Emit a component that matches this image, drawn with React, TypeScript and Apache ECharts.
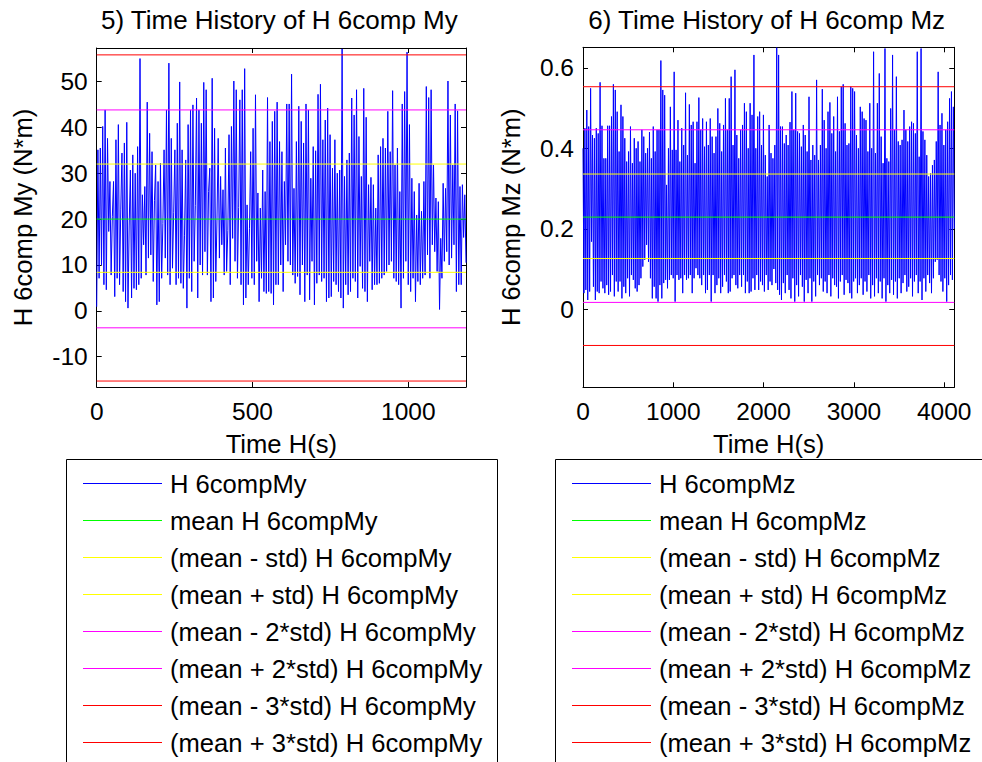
import React, { useEffect, useRef } from "react";
import * as echarts from "echarts";

// ---------- data ----------
const MY_VALUES = [
  0.9, 35.1, 7.1, 35.5, 10.0, 40.2, 5.7, 43.8, 4.6, 37.6, 17.3, 28.2, 7.8, 20.5, 28.2, 3.1, 37.3, 7.1, 40.6, 5.7,
  22.0, 34.4, 4.2, 36.6, 2.0, 41.1, 0.6, 18.5, 30.7, 2.8, 34.0, 4.9, 30.0, 4.6, 35.8, 5.7, 55.0, 7.1, 25.3, 14.4,
  27.1, 7.8, 45.5, 11.5, 38.7, 12.2, 34.7, 6.4, 24.0, 31.8, 1.3, 28.2, 2.0, 32.2, 7.1, 19.0, 35.1, 11.5, 43.8, 7.8,
  54.0, 5.7, 37.6, 9.3, 21.5, 35.1, 5.7, 40.9, 7.1, 49.9, 6.0, 35.1, 4.9, 16.5, 32.9, 0.6, 40.6, 7.1, 43.8, 4.2,
  44.9, 10.8, 23.0, 46.4, 2.8, 43.8, 10.0, 40.9, 7.8, 49.8, 12.9, 48.2, 7.8, 26.0, 31.1, 2.0, 50.7, 2.8, 39.8, 6.4,
  20.0, 37.6, 11.5, 29.3, 14.4, 26.4, 7.8, 35.5, 8.6, 17.5, 38.4, 5.7, 40.2, 15.8, 50.1, 10.8, 48.2, 7.1, 22.5, 46.0,
  5.7, 48.2, 1.3, 52.8, 2.8, 23.1, 5.7, 18.0, 34.7, 7.1, 39.8, 5.7, 47.1, 10.8, 25.7, 2.0, 22.4, 7.1,
  30.7, 4.2, 26.0, 3.8, 46.5, 4.2, 36.9, 3.8, 41.3, 1.3, 43.5, 5.7, 45.5, 5.7, 36.9, 10.0, 34.7, 4.2, 28.2, 14.4,
  45.1, 10.8, 45.1, 10.0, 51.6, 7.8, 26.7, 6.0, 36.9, 7.5, 44.6, 3.5, 41.3, 10.0, 36.6, 2.0, 45.1, 7.8, 43.8, 2.4,
  28.9, 10.8, 35.8, 1.3, 34.9, 6.0, 47.2, 7.8, 49.4, 6.4, 37.3, 7.1, 41.6, 2.0, 44.2, 2.8, 38.4, 3.1, 31.1, 6.4,
  37.3, 5.7, 30.0, 4.2, 30.7, 2.8, 57.1, 0.6, 29.3, 5.7, 32.9, 3.5, 34.4, 4.2, 46.4, 7.1, 42.7, 6.4, 48.2, 2.8,
  38.0, 9.7, 29.3, 4.9, 48.5, 4.2, 42.2, 2.0, 27.5, 10.8, 29.1, 4.6, 27.5, 5.7, 22.4, 5.7, 34.0, 6.0, 35.8, 7.1,
  37.6, 7.8, 35.5, 8.6, 43.5, 10.0, 34.7, 10.8, 48.0, 7.1, 31.8, 6.4, 35.5, 5.7, 26.0, 0.6, 45.1, 7.1, 47.8, 10.8,
  56.4, 5.7, 40.6, 4.2, 28.9, 7.1, 26.0, 2.0, 20.9, 6.4, 27.8, 5.7, 21.7, 7.1, 28.2, 7.8, 48.9, 12.2, 46.5, 7.1,
  48.2, 14.4, 31.8, 12.9, 24.6, 8.6, 23.8, 0.3, 15.8, 7.1, 27.8, 10.8, 26.7, 12.9, 50.1, 10.0, 42.7, 11.5, 31.8, 14.4,
  45.1, 4.2, 43.6, 5.7, 27.1, 5.7, 27.5, 16.0, 25.3, 10.5,
];

const MZ_VALUES = [
  0.400, 0.040, 0.450, 0.048, 0.495, 0.023, 0.454, 0.044, 0.549, 0.168, 0.433, 0.056, 0.425, 0.023, 0.450, 0.044,
  0.437, 0.040, 0.564, 0.069, 0.456, 0.052, 0.375, 0.040, 0.375, 0.060, 0.456, 0.036, 0.456, 0.044, 0.479, 0.085,
  0.559, 0.032, 0.545, 0.069, 0.491, 0.044, 0.392, 0.069, 0.508, 0.027, 0.479, 0.056, 0.425, 0.040, 0.367, 0.077,
  0.392, 0.032, 0.454, 0.085, 0.363, 0.073, 0.425, 0.052, 0.400, 0.044, 0.417, 0.060, 0.367, 0.077, 0.446, 0.106,
  0.429, 0.123, 0.388, 0.160, 0.400, 0.118, 0.440, 0.077, 0.375, 0.027, 0.454, 0.056, 0.392, 0.027, 0.446, 0.019,
  0.446, 0.060, 0.618, 0.027, 0.545, 0.065, 0.532, 0.073, 0.309, 0.052, 0.400, 0.073, 0.503, 0.085, 0.396, 0.077,
  0.590, 0.019, 0.396, 0.085, 0.470, 0.073, 0.367, 0.077, 0.450, 0.040, 0.408, 0.085, 0.538, 0.073, 0.383, 0.077,
  0.509, 0.085, 0.458, 0.040, 0.466, 0.077, 0.363, 0.102, 0.466, 0.085, 0.526, 0.077, 0.446, 0.060, 0.474, 0.085,
  0.404, 0.040, 0.466, 0.048, 0.408, 0.085, 0.474, 0.019, 0.429, 0.085, 0.388, 0.040, 0.429, 0.060, 0.499, 0.077,
  0.462, 0.040, 0.392, 0.056, 0.458, 0.085, 0.524, 0.069, 0.446, 0.040, 0.524, 0.044, 0.578, 0.077, 0.408, 0.085,
  0.595, 0.060, 0.433, 0.052, 0.375, 0.085, 0.446, 0.056, 0.458, 0.085, 0.512, 0.040, 0.491, 0.069, 0.400, 0.040,
  0.512, 0.044, 0.483, 0.077, 0.632, 0.048, 0.400, 0.085, 0.479, 0.048, 0.491, 0.069, 0.408, 0.060, 0.483, 0.044,
  0.383, 0.085, 0.330, 0.048, 0.458, 0.069, 0.388, 0.060, 0.375, 0.100,
  0.408, 0.065, 0.650, 0.048, 0.632, 0.036, 0.454, 0.023, 0.454, 0.065, 0.412, 0.040, 0.433, 0.085, 0.408, 0.048,
  0.465, 0.027, 0.541, 0.077, 0.446, 0.019, 0.537, 0.060, 0.442, 0.032, 0.437, 0.085, 0.404, 0.056, 0.458, 0.019,
  0.433, 0.073, 0.392, 0.040, 0.528, 0.077, 0.371, 0.019, 0.408, 0.069, 0.383, 0.032, 0.570, 0.085, 0.371, 0.060,
  0.408, 0.077, 0.547, 0.044, 0.470, 0.069, 0.400, 0.040, 0.491, 0.085, 0.514, 0.032, 0.437, 0.077, 0.479, 0.060,
  0.392, 0.056, 0.528, 0.027, 0.442, 0.069, 0.553, 0.085, 0.559, 0.036, 0.462, 0.073, 0.408, 0.065, 0.412, 0.040,
  0.553, 0.027, 0.549, 0.069, 0.541, 0.077, 0.433, 0.040, 0.400, 0.060, 0.503, 0.077, 0.491, 0.036, 0.474, 0.069,
  0.470, 0.044, 0.392, 0.085, 0.512, 0.027, 0.400, 0.060, 0.640, 0.032, 0.388, 0.077, 0.512, 0.040, 0.586, 0.069,
  0.429, 0.027, 0.363, 0.077, 0.648, 0.019, 0.375, 0.060, 0.367, 0.040, 0.499, 0.073, 0.632, 0.036, 0.446, 0.069,
  0.578, 0.027, 0.417, 0.077, 0.408, 0.040, 0.421, 0.065, 0.495, 0.085, 0.446, 0.044, 0.417, 0.056, 0.454, 0.077,
  0.466, 0.032, 0.462, 0.069, 0.437, 0.085, 0.640, 0.040, 0.379, 0.069, 0.648, 0.023, 0.442, 0.077, 0.421, 0.044,
  0.383, 0.085, 0.330, 0.065, 0.338, 0.040, 0.358, 0.077, 0.371, 0.118, 0.417, 0.123, 0.590, 0.085, 0.458, 0.069,
  0.487, 0.044, 0.408, 0.077, 0.446, 0.019, 0.466, 0.060, 0.524, 0.085, 0.541, 0.073, 0.503, 0.200,
];

// time span of each record (s)
const MY_T_END = 1185;
const MZ_T_END = 4112;

// statistic levels: mean, mean-std, mean+std, mean-2std, mean+2std, mean-3std, mean+3std
const LEVEL_LABELS = ["mean", "(mean - std)", "(mean + std)", "(mean - 2*std)", "(mean + 2*std)", "(mean - 3*std)", "(mean + 3*std)"];
const MY_LEVELS = [20.0, 8.4, 32.0, -3.7, 43.8, -15.3, 55.8];
const MZ_LEVELS = [0.229, 0.126, 0.336, 0.017, 0.446, -0.090, 0.553];

// axes
const MY_Y_RANGE = [-16.6, 57.3];
const MZ_Y_RANGE = [-0.194, 0.651];
const MY_X_TICKS = [0, 500, 1000];
const MY_Y_TICKS = [-10, 0, 10, 20, 30, 40, 50];
const MZ_X_TICKS = [0, 1000, 2000, 3000, 4000];
const MZ_Y_TICKS = [0, 0.2, 0.4, 0.6];

const TITLES = ["5) Time History of H 6comp My", "6) Time History of H 6comp Mz"];
const Y_NAMES = ["H 6comp My (N*m)", "H 6comp Mz (N*m)"];
const X_NAME = "Time H(s)";
const SIGNALS = ["H 6compMy", "H 6compMz"];

// ---------- styles ----------
const FONT = '"Liberation Sans", Arial, Helvetica, sans-serif';
const SIGNAL_COLOR = "#0000ff";
const LEVEL_COLORS = ["#00ff00", "#ffff00", "#ffff00", "#ff00ff", "#ff00ff", "#ff0000", "#ff0000"];

const GRIDS = [
  { left: 96.7, top: 48, width: 369.3, height: 339 },
  { left: 583, top: 47.3, width: 371.3, height: 340 },
];

function axisCommon(ticks: number[], showLabel: boolean, margin: number) {
  return {
    axisLine: { show: true, onZero: false, lineStyle: { color: "#000", width: 1 } },
    axisTick: { show: true, inside: true, length: 5, customValues: ticks, lineStyle: { color: "#000", width: 1 } },
    axisLabel: {
      show: showLabel, customValues: ticks, fontSize: 24.5, color: "#000", fontFamily: FONT, margin,
      formatter: (v: number) => String(v),
    },
    splitLine: { show: false },
  };
}

function buildOption() {
  const xAxis: any[] = [];
  const yAxis: any[] = [];
  const series: any[] = [];
  const legends: any[] = [];

  const configs = [
    { values: MY_VALUES, tEnd: MY_T_END, levels: MY_LEVELS, yRange: MY_Y_RANGE, xTicks: MY_X_TICKS, yTicks: MY_Y_TICKS, yNameGap: 61 },
    { values: MZ_VALUES, tEnd: MZ_T_END, levels: MZ_LEVELS, yRange: MZ_Y_RANGE, xTicks: MZ_X_TICKS, yTicks: MZ_Y_TICKS, yNameGap: 59 },
  ];

  configs.forEach((c, g) => {
    xAxis.push({
      type: "value", gridIndex: g, position: "bottom", min: 0, max: c.tEnd,
      name: X_NAME, nameLocation: "middle", nameGap: 43.5,
      nameTextStyle: { fontSize: 25.6, color: "#000", fontFamily: FONT },
      ...axisCommon(c.xTicks, true, 11.5),
    });
    xAxis.push({ type: "value", gridIndex: g, position: "top", min: 0, max: c.tEnd, ...axisCommon(c.xTicks, false, 8) });
    yAxis.push({
      type: "value", gridIndex: g, position: "left", min: c.yRange[0], max: c.yRange[1],
      name: Y_NAMES[g], nameLocation: "middle", nameGap: c.yNameGap,
      nameTextStyle: { fontSize: 25.6, color: "#000", fontFamily: FONT },
      ...axisCommon(c.yTicks, true, 9),
    });
    yAxis.push({ type: "value", gridIndex: g, position: "right", min: c.yRange[0], max: c.yRange[1], ...axisCommon(c.yTicks, false, 8) });

    const dt = c.tEnd / (c.values.length - 1);
    const names: string[] = [SIGNALS[g]];
    series.push({
      name: SIGNALS[g], type: "line", xAxisIndex: g * 2, yAxisIndex: g * 2,
      data: c.values.map((v, i) => [i * dt, v]),
      symbol: "none", lineStyle: { color: SIGNAL_COLOR, width: 1 }, itemStyle: { color: SIGNAL_COLOR },
      silent: true,
    });
    c.levels.forEach((lv, k) => {
      const name = `${LEVEL_LABELS[k]} ${SIGNALS[g]}`;
      names.push(name);
      series.push({
        name, type: "line", xAxisIndex: g * 2, yAxisIndex: g * 2,
        data: [[0, lv], [c.tEnd, lv]],
        symbol: "none", lineStyle: { color: LEVEL_COLORS[k], width: 1 }, itemStyle: { color: LEVEL_COLORS[k] },
        silent: true,
      });
    });
    legends.push({
      data: names,
      orient: "vertical", left: g === 0 ? 82.5 : 571.5, top: 470.5, height: 340,
      itemWidth: 79, itemHeight: 26, itemGap: 11, padding: 0, selectedMode: false,
      itemStyle: { opacity: 0 },
      lineStyle: { width: 1 },
      textStyle: { fontSize: 25.6, lineHeight: 26, color: "#000", fontFamily: FONT, padding: [0, 0, 0, 3] },
    });
  });

  const graphic: any[] = [
    { type: "rect", shape: { x: 66.5, y: 459.5, width: 431, height: 320 }, style: { fill: "none", stroke: "#000", lineWidth: 1 }, silent: true },
    { type: "rect", shape: { x: 555.5, y: 459.5, width: 440, height: 320 }, style: { fill: "none", stroke: "#000", lineWidth: 1 }, silent: true },
  ];
  TITLES.forEach((t, g) => {
    graphic.push({
      type: "text", x: GRIDS[g].left + GRIDS[g].width / 2 - 2, y: 19.5, silent: true,
      style: { text: t, fontSize: 26, fontFamily: FONT, fill: "#000", align: "center", verticalAlign: "middle" },
    });
  });

  return {
    animation: false,
    backgroundColor: "#ffffff",
    grid: GRIDS.map((gr) => ({ ...gr, containLabel: false })),
    xAxis, yAxis, series, legend: legends, graphic,
  };
}

export default function App() {
  const ref = useRef<HTMLDivElement>(null);
  useEffect(() => {
    if (!ref.current) return;
    const chart = echarts.init(ref.current, undefined, { renderer: "svg" });
    chart.setOption(buildOption() as any);
    return () => chart.dispose();
  }, []);
  return <div ref={ref} style={{ position: "absolute", left: 0, top: 0, width: 982, height: 762, background: "#fff" }} />;
}
